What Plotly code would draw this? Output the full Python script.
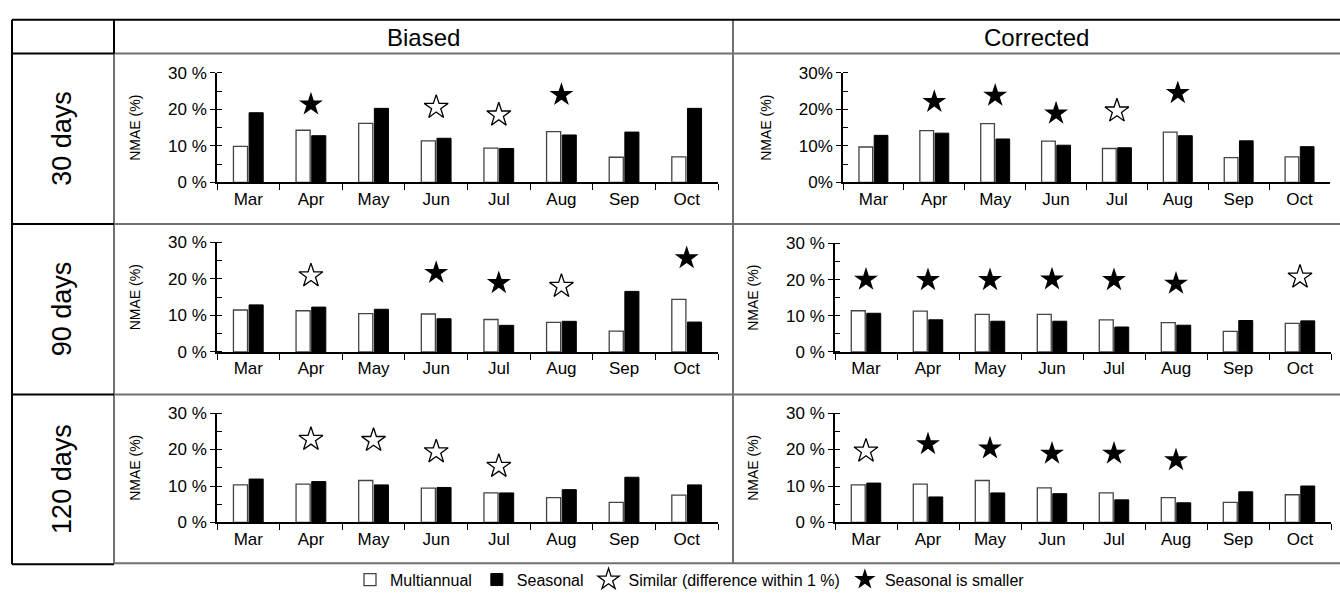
import plotly.graph_objects as go

# ---------------- data ----------------
months = ["Mar", "Apr", "May", "Jun", "Jul", "Aug", "Sep", "Oct"]
col_headers = ["Biased", "Corrected"]
row_headers = ["30 days", "90 days", "120 days"]
tick_vals = [0, 10, 20, 30]
tick_text_spaced = ["0 %", "10 %", "20 %", "30 %"]
tick_text_tight = ["0%", "10%", "20%", "30%"]
legend_names = ["Multiannual", "Seasonal", "Similar (difference within 1 %)", "Seasonal is smaller"]
y_title = "NMAE (%)"

biased_30_multi = [9.9, 14.3, 16.2, 11.4, 9.4, 13.9, 6.9, 7.0]
biased_30_seas = [19.1, 12.8, 20.3, 12.1, 9.3, 13.0, 13.8, 20.3]
biased_30_similar = [None, None, None, 20.6, 18.5, None, None, None]
biased_30_smaller = [None, 21.4, None, None, None, 24.0, None, None]

corr_30_multi = [9.7, 14.2, 16.1, 11.3, 9.3, 13.8, 6.8, 7.0]
corr_30_seas = [12.9, 13.5, 11.9, 10.2, 9.5, 12.8, 11.4, 9.8]
corr_30_similar = [None, None, None, None, 19.6, None, None, None]
corr_30_smaller = [None, 22.1, 23.8, 18.9, None, 24.5, None, None]

biased_90_multi = [11.5, 11.3, 10.5, 10.4, 8.9, 8.1, 5.7, 14.4]
biased_90_seas = [12.9, 12.3, 11.7, 9.1, 7.3, 8.4, 16.6, 8.2]
biased_90_similar = [None, 20.9, None, None, None, 18.0, None, None]
biased_90_smaller = [None, None, None, 21.7, 18.9, None, None, 25.7]

corr_90_multi = [11.4, 11.3, 10.4, 10.4, 8.9, 8.1, 5.7, 7.9]
corr_90_seas = [10.7, 8.9, 8.5, 8.5, 6.9, 7.4, 8.7, 8.6]
corr_90_similar = [None, None, None, None, None, None, None, 20.7]
corr_90_smaller = [20.0, 19.9, 19.9, 20.1, 19.9, 18.9, None, None]

biased_120_multi = [10.3, 10.5, 11.5, 9.4, 8.1, 6.8, 5.5, 7.5]
biased_120_seas = [11.9, 11.2, 10.3, 9.6, 8.1, 9.0, 12.4, 10.3]
biased_120_similar = [None, 22.8, 22.5, 19.4, 15.4, None, None, None]
biased_120_smaller = [None, None, None, None, None, None, None, None]

corr_120_multi = [10.3, 10.5, 11.5, 9.5, 8.1, 6.8, 5.5, 7.6]
corr_120_seas = [10.8, 7.0, 8.1, 7.9, 6.2, 5.4, 8.4, 10.0]
corr_120_similar = [19.6, None, None, None, None, None, None, None]
corr_120_smaller = [None, 21.5, 20.3, 18.9, 18.9, 17.1, None, None]

# ---------------- layout helpers ----------------
W, H = 1340, 610
FONT = "Liberation Sans, Arial, sans-serif"


def fx(p):
    return p / W


def fy(p):
    return 1 - p / H


panels = [
    # multi, seas, similar, smaller, (x0, x1), (ytop30, y0), ticktext
    (biased_30_multi, biased_30_seas, biased_30_similar, biased_30_smaller, (217, 718), (66, 179), tick_text_spaced),
    (corr_30_multi, corr_30_seas, corr_30_similar, corr_30_smaller, (843, 1330), (66, 179), tick_text_tight),
    (biased_90_multi, biased_90_seas, biased_90_similar, biased_90_smaller, (217, 718), (241, 354), tick_text_spaced),
    (corr_90_multi, corr_90_seas, corr_90_similar, corr_90_smaller, (835, 1331), (242, 354), tick_text_spaced),
    (biased_120_multi, biased_120_seas, biased_120_similar, biased_120_smaller, (217, 718), (417, 530), tick_text_spaced),
    (corr_120_multi, corr_120_seas, corr_120_similar, corr_120_smaller, (835, 1331), (417, 530), tick_text_spaced),
]

fig = go.Figure()
layout_axes = {}

for i, (multi, seas, similar, smaller, (x0, x1), (yt, yb), ttext) in enumerate(panels, start=1):
    xa = "x" if i == 1 else f"x{i}"
    ya = "y" if i == 1 else f"y{i}"
    first = i == 1
    fig.add_trace(go.Bar(
        x=months, y=multi, xaxis=xa, yaxis=ya, name=legend_names[0],
        legendgroup="multi", showlegend=first,
        marker=dict(color="white", line=dict(color="#444444", width=1.3)),
    ))
    fig.add_trace(go.Bar(
        x=months, y=seas, xaxis=xa, yaxis=ya, name=legend_names[1],
        legendgroup="seas", showlegend=first,
        marker=dict(color="black", line=dict(color="black", width=1)),
    ))
    fig.add_trace(go.Scatter(
        x=months, y=similar, xaxis=xa, yaxis=ya, name=legend_names[2],
        legendgroup="similar", showlegend=first, mode="markers",
        marker=dict(symbol="star-open", size=18, color="black", line=dict(width=1.3, color="black")),
    ))
    fig.add_trace(go.Scatter(
        x=months, y=smaller, xaxis=xa, yaxis=ya, name=legend_names[3],
        legendgroup="smaller", showlegend=first, mode="markers",
        marker=dict(symbol="star", size=18, color="black", line=dict(width=0)),
    ))

    xkey = "xaxis" if i == 1 else f"xaxis{i}"
    ykey = "yaxis" if i == 1 else f"yaxis{i}"
    layout_axes[xkey] = dict(
        domain=[fx(x0), fx(x1)], anchor=ya, type="category",
        categoryorder="array", categoryarray=months, range=[-0.5, 7.5],
        tickson="boundaries", ticks="outside", ticklen=6, tickwidth=1.3, tickcolor="black",
        showline=True, linecolor="black", linewidth=1.6, showgrid=False, zeroline=False,
        tickfont=dict(family=FONT, size=17, color="black"), fixedrange=True,
    )
    layout_axes[ykey] = dict(
        domain=[fy(yb), fy(yt)], anchor=xa, range=[0, 30],
        tickmode="array", tickvals=tick_vals, ticktext=ttext,
        ticks="outside", ticklen=5, tickwidth=1.3, tickcolor="black",
        minor=dict(ticks="inside", dtick=5, tick0=0, ticklen=5, tickwidth=1.3, tickcolor="black", showgrid=False),
        showline=True, linecolor="black", linewidth=1.6, showgrid=False, zeroline=False,
        tickfont=dict(family=FONT, size=17, color="black"),
        title=dict(text=y_title, font=dict(family=FONT, size=14, color="black"), standoff=24),
        fixedrange=True,
    )

# ---------------- table frame ----------------
shapes = []
BLACK = "black"
GRAY = "#707070"


def line(xa_, ya_, xb_, yb_, color, width=2):
    shapes.append(dict(type="line", xref="paper", yref="paper",
                       x0=fx(xa_), y0=fy(ya_), x1=fx(xb_), y1=fy(yb_),
                       line=dict(color=color, width=width)))


for yy in (46, 222, 398, 572):
    line(114, yy, 1340, yy, GRAY)
line(733, 11, 733, 572, GRAY)
line(114, 46, 114, 572, GRAY)
line(12, 11, 1340, 11, BLACK)
line(12, 11, 12, 573, BLACK)
line(114, 11, 114, 46, BLACK)
line(12, 573, 114, 573, BLACK)
for yy in (46, 222, 398):
    line(12, yy, 114, yy, BLACK)

annotations = []
for txt, xc in zip(col_headers, (423.5, 1036.5)):
    annotations.append(dict(text=txt, x=fx(xc), y=fy(29), xref="paper", yref="paper",
                            showarrow=False, xanchor="center", yanchor="middle",
                            font=dict(family=FONT, size=24, color="black")))
for txt, yc in zip(row_headers, (134, 310, 485)):
    annotations.append(dict(text=txt, x=fx(62), y=fy(yc), xref="paper", yref="paper",
                            showarrow=False, xanchor="center", yanchor="middle", textangle=-90,
                            font=dict(family=FONT, size=27, color="black")))

fig.update_layout(
    width=W, height=H, autosize=False,
    margin=dict(l=0, r=0, t=0, b=0, pad=0),
    paper_bgcolor="white", plot_bgcolor="white",
    barmode="group", bargap=0.5, bargroupgap=0.1,
    font=dict(family=FONT, color="black"),
    showlegend=True,
    legend=dict(orientation="h", x=fx(690), xanchor="center", y=fy(589), yanchor="middle",
                font=dict(family=FONT, size=16, color="black"), bgcolor="rgba(0,0,0,0)",
                traceorder="normal", itemsizing="trace", itemwidth=30),
    shapes=shapes, annotations=annotations,
    **layout_axes,
)

fig.write_html(
    "out.html",
    config={"displayModeBar": False, "staticPlot": False},
    post_script="document.body.style.margin='0px';document.body.style.overflow='hidden';",
)
